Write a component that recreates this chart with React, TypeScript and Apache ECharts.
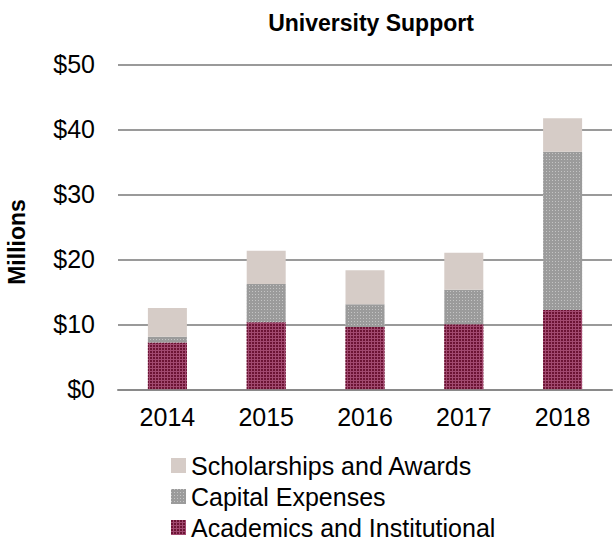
import React, { useEffect, useRef } from "react";
import * as echarts from "echarts";

const categories = ["2014", "2015", "2016", "2017", "2018"];
const academics = [7.2, 10.3, 9.6, 10.0, 12.2];
const capital = [0.9, 5.9, 3.5, 5.3, 24.35];
const scholarships = [4.4, 5.1, 5.2, 5.7, 5.15];
const yTicks = { min: 0, max: 50, interval: 10 };

const FONT = "'Liberation Sans', Arial, sans-serif";

export default function App() {
  const ref = useRef<HTMLDivElement>(null);
  useEffect(() => {
    if (!ref.current) return;
    const chart = echarts.init(ref.current, null, { renderer: "svg" });
    chart.setOption({
      animation: false,
      backgroundColor: "#ffffff",
      textStyle: { fontFamily: FONT },
      title: {
        text: "University Support",
        left: 366,
        textAlign: "center",
        top: 6,
        textStyle: { fontFamily: FONT, fontSize: 23, fontWeight: "bold", color: "#000" },
      },
      graphic: [
        {
          type: "text",
          x: 17,
          y: 242,
          rotation: Math.PI / 2,
          style: {
            text: "Millions",
            fontFamily: FONT,
            fontSize: 23,
            fontWeight: "bold",
            fill: "#000",
            align: "center",
            verticalAlign: "middle",
          },
        },
      ],
      legend: {
        orient: "vertical",
        left: 171,
        top: 451,
        height: 94,
        padding: 0,
        itemWidth: 15,
        itemHeight: 15,
        itemGap: 2,
        icon: "rect",
        data: ["Scholarships and Awards", "Capital Expenses", "Academics and Institutional"],
        textStyle: { fontFamily: FONT, fontSize: 25, color: "#000", lineHeight: 29 },
      },
      grid: { left: 118, right: 1, top: 64.3, bottom: 155.7, containLabel: false },
      xAxis: {
        type: "category",
        data: categories,
        axisLine: { lineStyle: { color: "#8a8a8a", width: 2 } },
        axisTick: { show: false },
        axisLabel: { fontFamily: FONT, fontSize: 25, color: "#000", margin: 15 },
      },
      yAxis: {
        type: "value",
        min: yTicks.min,
        max: yTicks.max,
        interval: yTicks.interval,
        axisLine: { show: false },
        axisTick: { show: false },
        axisLabel: {
          fontFamily: FONT,
          fontSize: 25,
          color: "#000",
          margin: 23,
          formatter: (v: number) => "$" + v,
        },
        splitLine: { lineStyle: { color: "#9a9a9a", width: 2 } },
      },
      series: [
        {
          name: "Academics and Institutional",
          type: "bar",
          stack: "total",
          barWidth: 39,
          data: academics,
          itemStyle: {
            color: "#a24a70",
            decal: {
              symbol: "rect",
              symbolSize: 1,
              color: "#6c1434",
              dashArrayX: [2, 1],
              dashArrayY: [2, 1],
              rotation: 0,
            },
          },
        },
        {
          name: "Capital Expenses",
          type: "bar",
          stack: "total",
          barWidth: 39,
          data: capital,
          itemStyle: {
            color: "#9b9b9b",
            decal: {
              symbol: "rect",
              symbolSize: 1,
              color: "#c4c4c4",
              dashArrayX: [1, 2],
              dashArrayY: [1, 2],
              rotation: 0,
            },
          },
        },
        {
          name: "Scholarships and Awards",
          type: "bar",
          stack: "total",
          barWidth: 39,
          data: scholarships,
          itemStyle: { color: "#d6ccc7" },
        },
      ],
    });
    return () => chart.dispose();
  }, []);
  return <div ref={ref} style={{ width: 613, height: 545, position: "absolute", left: 0, top: 0 }} />;
}
